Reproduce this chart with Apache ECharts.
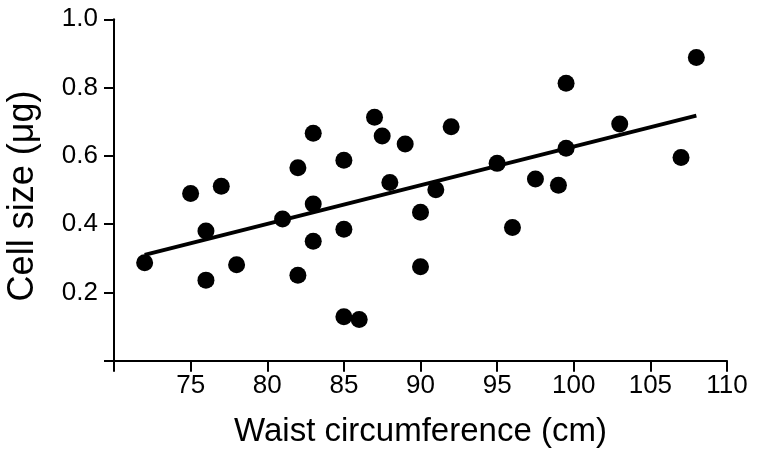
<!DOCTYPE html>
<html>
<head>
<meta charset="utf-8">
<script src="https://cdn.jsdelivr.net/npm/echarts@6/dist/echarts.min.js"></script>
<style>
html,body{margin:0;padding:0;background:#fff;}
#c{width:757px;height:459px;}
</style>
</head>
<body>
<div id="c"></div>
<script>
// Waist circumference (cm)
var waist = [72, 75, 77, 76, 76, 78, 81, 82, 82, 83, 83, 83, 85, 85, 85, 86, 87, 87.5, 88, 89, 90, 90, 91, 92, 95, 96, 97.5, 99, 99.5, 99.5, 103, 107, 108];
// Cell size (µg)
var cellSize = [0.287, 0.490, 0.511, 0.380, 0.236, 0.281, 0.415, 0.565, 0.250, 0.666, 0.459, 0.350, 0.587, 0.385, 0.129, 0.121, 0.713, 0.658, 0.522, 0.635, 0.435, 0.275, 0.501, 0.685, 0.578, 0.390, 0.532, 0.514, 0.813, 0.622, 0.693, 0.595, 0.888];
// Regression line end points
var fitX = [72, 108];
var fitY = [0.310, 0.718];
// Tick labels
var xTickValues = [70, 75, 80, 85, 90, 95, 100, 105, 110];
var xTickLabels = ['', '75', '80', '85', '90', '95', '100', '105', '110'];
var yTickValues = [0, 0.2, 0.4, 0.6, 0.8, 1.0];
var yTickLabels = ['', '0.2', '0.4', '0.6', '0.8', '1.0'];

var points = waist.map(function (w, i) { return [w, cellSize[i]]; });
var fitLine = fitX.map(function (x, i) { return [x, fitY[i]]; });

function lookup(values, labels, v) {
  for (var i = 0; i < values.length; i++) {
    if (Math.abs(values[i] - v) < 1e-6) return labels[i];
  }
  return '';
}

var font = 'Liberation Sans, Arial, Helvetica, sans-serif';
var chart = echarts.init(document.getElementById('c'));
chart.setOption({
  animation: false,
  backgroundColor: '#fff',
  grid: { left: 114, right: 30, top: 19.3, bottom: 98.3, containLabel: false, outerBoundsMode: 'none' },
  xAxis: {
    type: 'value', min: 70, max: 110, interval: 5,
    name: 'Waist circumference (cm)', nameLocation: 'middle', nameGap: 55,
    nameTextStyle: { fontFamily: font, fontSize: 33, color: '#000' },
    axisLine: { show: true, lineStyle: { color: '#000', width: 2 } },
    axisTick: { show: true, length: 11, lineStyle: { color: '#000', width: 2 } },
    axisLabel: { margin: 12, fontFamily: font, fontSize: 26, color: '#000',
      formatter: function (v) { return lookup(xTickValues, xTickLabels, v); } },
    splitLine: { show: false }
  },
  yAxis: {
    type: 'value', min: 0, max: 1, interval: 0.2,
    name: 'Cell size (μg)', nameLocation: 'middle', nameGap: 73, nameRotate: 90,
    nameTextStyle: { fontFamily: font, fontSize: 36, color: '#000', padding: [0, 12, 0, 0] },
    axisLine: { show: true, lineStyle: { color: '#000', width: 2 } },
    axisTick: { show: true, length: 10, lineStyle: { color: '#000', width: 2 } },
    axisLabel: { margin: 16, fontFamily: font, fontSize: 26, color: '#000',
      formatter: function (v) { return lookup(yTickValues, yTickLabels, v); } },
    splitLine: { show: false }
  },
  series: [
    {
      type: 'line', data: fitLine, symbol: 'none', silent: true,
      lineStyle: { color: '#000', width: 4 }, z: 2
    },
    {
      type: 'scatter', data: points, symbol: 'circle', symbolSize: 17,
      itemStyle: { color: '#000', opacity: 1 }, z: 3
    }
  ]
});
</script>
</body>
</html>
